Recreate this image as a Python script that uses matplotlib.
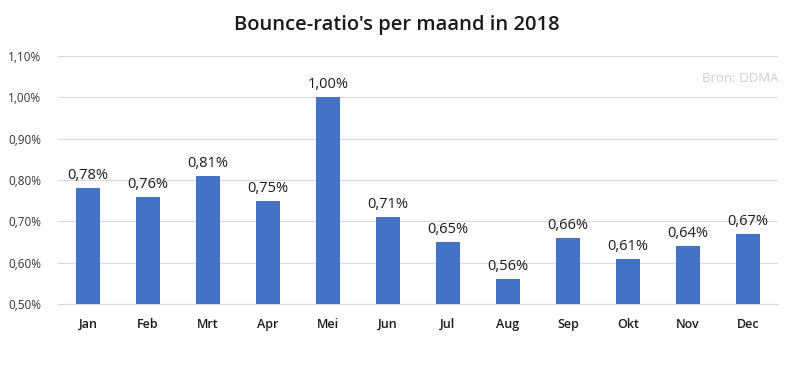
import matplotlib
matplotlib.use("Agg")
import matplotlib.pyplot as plt
from matplotlib.ticker import FuncFormatter

months = ["Jan", "Feb", "Mrt", "Apr", "Mei", "Jun", "Jul", "Aug", "Sep", "Okt", "Nov", "Dec"]
bounce = [0.78, 0.76, 0.81, 0.75, 1.00, 0.71, 0.65, 0.56, 0.66, 0.61, 0.64, 0.67]
yticks = [0.50, 0.60, 0.70, 0.80, 0.90, 1.00, 1.10]

BAR = "#4472C4"
GRID = "#D9D9D9"
INK = "#1A1A1A"

plt.rcParams["font.family"] = ["Open Sans", "DejaVu Sans"]


def pct(v):
    return f"{v:.2f}%".replace(".", ",")


fig = plt.figure(figsize=(7.95, 3.75), dpi=100)
ax = fig.add_axes([58 / 795, 1 - 304 / 375, 720 / 795, 248 / 375])

x = range(len(months))
ax.bar(x, [b - 0.5 for b in bounce], width=0.4, bottom=0.5, color=BAR, zorder=3)
for i, v in zip(x, bounce):
    ax.text(i, v + 0.012, pct(v), ha="center", va="bottom", fontsize=10.5,
            fontweight="medium", color=INK)

ax.set_xlim(-0.5, len(months) - 0.5)
ax.set_ylim(0.5, 1.10)
ax.set_yticks(yticks)
ax.yaxis.set_major_formatter(FuncFormatter(lambda v, _: pct(v)))
ax.set_xticks(list(x))
ax.set_xticklabels(months, fontsize=9, fontweight="semibold", color=INK)
ax.tick_params(axis="y", labelsize=8.5, colors="#333333", length=0, pad=12)
ax.tick_params(axis="x", length=0, pad=10)
ax.grid(axis="y", color=GRID, lw=0.8, zorder=0)
for s in ["top", "right", "left"]:
    ax.spines[s].set_visible(False)
ax.spines["bottom"].set_color(GRID)

ax.text(1.0, 0.91, "Bron: DDMA", transform=ax.transAxes, ha="right", va="center",
        fontsize=9.5, color="#CFCFCF")
fig.text(397 / 795, 1 - 25 / 375, "Bounce-ratio's per maand in 2018", ha="center",
         va="center", fontsize=14.5, fontweight="semibold", color=INK)

fig.savefig("out.png", dpi=100)
